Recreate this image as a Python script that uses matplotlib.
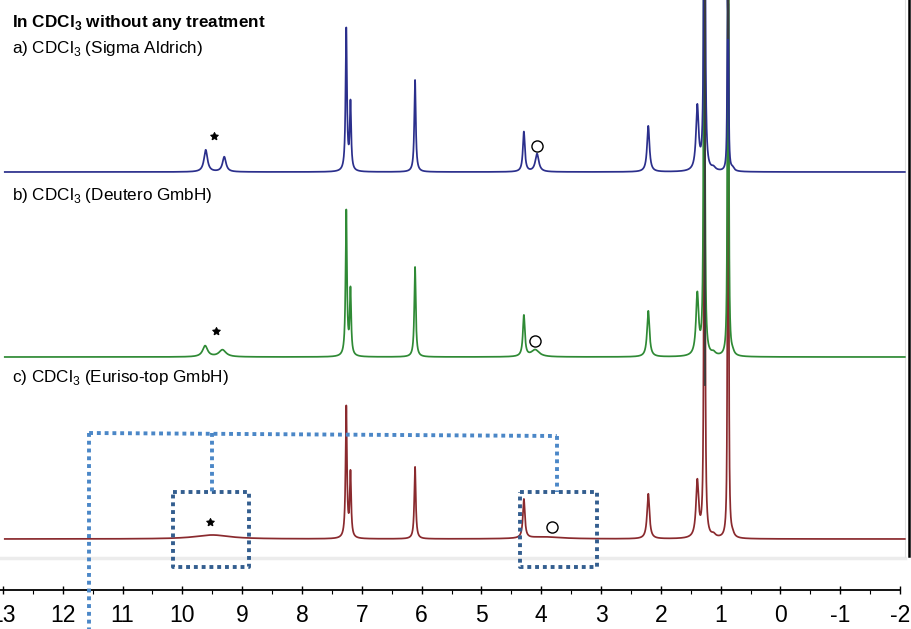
import numpy as np
import matplotlib
matplotlib.use("Agg")
import matplotlib.pyplot as plt
from matplotlib.ticker import MultipleLocator, FuncFormatter

plt.rcParams["font.family"] = ["Liberation Sans", "DejaVu Sans"]
plt.rcParams["mathtext.fontset"] = "custom"
plt.rcParams["mathtext.rm"] = "Liberation Sans"
plt.rcParams["mathtext.bf"] = "Liberation Sans:bold"

# ---- peak tables (ppm, height in plot units, half width in ppm) ----
sigma_ppm = [9.61, 9.30, 7.26, 7.19, 6.11, 4.29, 4.07, 2.21, 1.39, 1.27, 1.12, 0.885, 0.872, 0.80]
sigma_hgt = [22, 15, 142, 67, 92, 40, 18, 46, 64, 900, 3, 134, 128, 3]
sigma_wid = [0.035, 0.035, 0.014, 0.014, 0.015, 0.02, 0.035, 0.024, 0.026, 0.008, 0.04, 0.008, 0.008, 0.03]

deutero_ppm = [9.62, 9.33, 7.26, 7.19, 6.11, 4.29, 4.10, 2.21, 1.39, 1.275, 1.12, 0.885, 0.872, 0.80]
deutero_hgt = [11, 7, 145, 65, 90, 41, 7, 46, 61, 900, 3, 127, 900, 3]
deutero_wid = [0.05, 0.07, 0.014, 0.014, 0.015, 0.02, 0.08, 0.024, 0.026, 0.008, 0.04, 0.008, 0.006, 0.03]

euriso_ppm = [9.50, 7.26, 7.19, 6.11, 4.29, 3.95, 2.21, 1.39, 1.27, 1.12, 0.885, 0.872, 0.80]
euriso_hgt = [4, 131, 64, 72, 39, 2, 45, 56, 900, 3, 119, 900, 3]
euriso_wid = [0.35, 0.014, 0.014, 0.015, 0.02, 0.35, 0.024, 0.026, 0.008, 0.04, 0.008, 0.006, 0.03]

labels = [r"a) CDCl$_3$ (Sigma Aldrich)",
          r"b) CDCl$_3$ (Deutero GmbH)",
          r"c) CDCl$_3$ (Euriso-top GmbH)"]
title = r"In CDCl$_\mathbf{3}$ without any treatment"

tick_values = list(range(13, -3, -1))

# impurity markers: (ppm, height above baseline)
star_ppm = [9.47, 9.44, 9.54]
star_hgt = [36, 26, 17]
circ_ppm = [4.07, 4.10, 3.82]
circ_hgt = [26, 16, 12]

# ---- layout ----
W, H = 912, 629
baselines = [172, 357, 539]
colors = ["#2b2f8c", "#2f8a35", "#8a2a2e"]
label_y = [53, 200, 382]
axis_y = 590


def spectrum(x, pos, hgt, wid):
    y = np.zeros_like(x)
    for p, h, w in zip(pos, hgt, wid):
        y += h / (1.0 + ((x - p) / w) ** 2)
    return y


ppm = np.linspace(12.97, -2.08, 20000)
spectra = [
    spectrum(ppm, sigma_ppm, sigma_hgt, sigma_wid),
    spectrum(ppm, deutero_ppm, deutero_hgt, deutero_wid),
    spectrum(ppm, euriso_ppm, euriso_hgt, euriso_wid),
]

fig = plt.figure(figsize=(W / 100, H / 100), dpi=100)
ax = fig.add_axes([0, 0, 1, 1])
ax.set_xlim(13.05, -2.2)
ax.set_ylim(H, 0)

# stacked traces, bottom one first
for i in [2, 1, 0]:
    ax.plot(ppm, baselines[i] - spectra[i], color=colors[i], lw=1.25,
            solid_joinstyle="round", zorder=3 + (2 - i))

# dark overlap of the tallest lines
ax.plot([1.262, 1.262], [0, 385], color="#3a3a3a", lw=1.3, zorder=6)
ax.plot([0.872, 0.872], [0, 38], color="#3a3a3a", lw=1.3, zorder=6)

# frame pieces of the spectrum window
ax.plot([13.05, -2.08], [558, 558], color="#ececec", lw=2.5, zorder=1)
ax.plot([-2.08, -2.08], [0, 557], color="#e2e2e2", lw=0.8, zorder=1)
ax.plot([-2.15, -2.15], [0, 556], color="black", lw=1.8, zorder=2)

# labels
ax.text(12 / W, 1 - 27 / H, title, transform=ax.transAxes, fontsize=12.3,
        fontweight="bold", va="baseline", ha="left")
for lab, yl in zip(labels, label_y):
    ax.text(12 / W, 1 - yl / H, lab, transform=ax.transAxes, fontsize=12.3,
            va="baseline", ha="left")

# impurity markers
for i in range(3):
    ax.plot(star_ppm[i], baselines[i] - star_hgt[i], marker=(5, 1, 0),
            ms=6, color="black", mew=0.6, zorder=7)
    ax.plot(circ_ppm[i], baselines[i] - circ_hgt[i], marker="o", ms=8,
            mfc="white", mec="black", mew=1.0, zorder=7)

# highlight boxes and connectors
box_col = "#335e8f"
con_col = "#4b87c7"
dot = dict(ls=(0, (1, 1)), lw=2.8, dash_capstyle="butt")
for x0, x1 in [(10.16, 8.89), (4.35, 3.07)]:
    ax.plot([x0, x1, x1, x0, x0], [492, 492, 567, 567, 492],
            color=box_col, zorder=8, **dot)
ax.plot([11.56, 3.74], [433, 436], color=con_col, zorder=8, **dot)
ax.plot([9.50, 9.50], [433, 492], color=con_col, zorder=8, **dot)
ax.plot([3.74, 3.74], [436, 492], color=con_col, zorder=8, **dot)
ax.plot([11.56, 11.56], [433, 629], color=con_col, zorder=8, **dot)

# ppm axis
for s in ["top", "left", "right"]:
    ax.spines[s].set_visible(False)
ax.spines["bottom"].set_position(("data", axis_y))
ax.spines["bottom"].set_bounds(13.05, -2.0)
ax.spines["bottom"].set_linewidth(1.3)
ax.set_xticks(tick_values)
ax.xaxis.set_major_formatter(FuncFormatter(lambda v, p: f"{int(round(v))}"))
ax.xaxis.set_minor_locator(MultipleLocator(0.5))
ax.tick_params(axis="x", which="major", direction="inout", length=6,
               width=1.0, labelsize=16.5, pad=7)
ax.tick_params(axis="x", which="minor", direction="out", length=3, width=0.8)
ax.set_yticks([])

fig.savefig("out.png", dpi=100)
